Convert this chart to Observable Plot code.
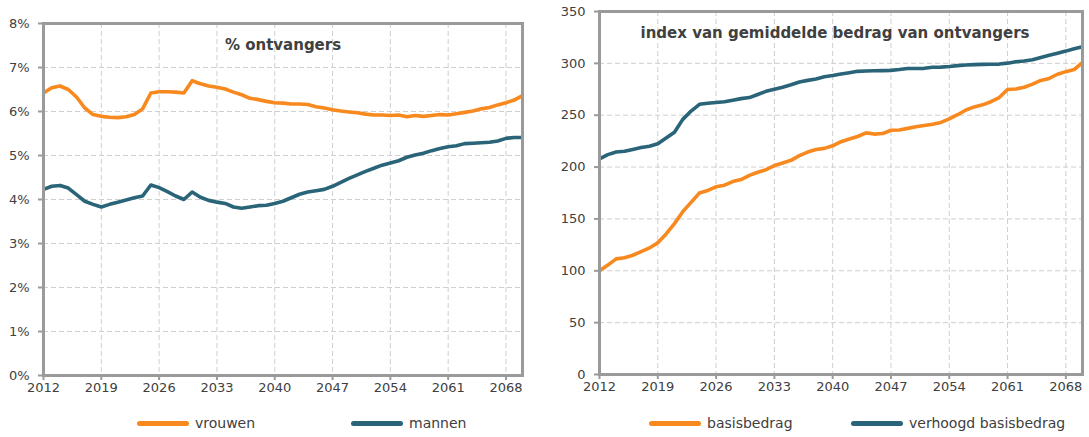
<!DOCTYPE html>
<html><head><meta charset="utf-8">
<script src="https://cdn.jsdelivr.net/npm/d3@7"></script>
<script src="https://cdn.jsdelivr.net/npm/@observablehq/plot@0.6"></script>
<style>
body{margin:0;background:#fff;font-family:"DejaVu Sans",sans-serif;color:#404040}
#wrap{position:relative;width:1089px;height:437px;overflow:hidden;background:#fff}
.panel{position:absolute;top:0}
.leg{position:absolute;top:414px;height:18px;display:flex;align-items:center;font-size:14px;white-space:nowrap;color:#404040}
.sw{display:inline-block;width:52px;height:5px;border-radius:3px;margin-right:6px}
</style></head><body><div id="wrap"></div>
<script>
// ---- data ----
const years = d3.range(2012, 2071);
const xTickLabels = [2012, 2019, 2026, 2033, 2040, 2047, 2054, 2061, 2068];

const seriesLeft = ["vrouwen", "mannen"];
const vrouwen = [6.42,6.54,6.58,6.50,6.33,6.08,5.93,5.89,5.87,5.86,5.88,5.93,6.06,6.42,6.45,6.45,6.44,6.42,6.70,6.63,
  6.58,6.55,6.51,6.44,6.38,6.30,6.27,6.23,6.20,6.19,6.17,6.17,6.16,6.11,6.08,6.04,6.01,5.99,5.97,5.94,
  5.92,5.92,5.91,5.92,5.88,5.91,5.89,5.91,5.93,5.92,5.95,5.98,6.01,6.06,6.09,6.15,6.20,6.26,6.36];
const mannen = [4.23,4.30,4.32,4.26,4.11,3.96,3.89,3.83,3.89,3.94,3.99,4.04,4.08,4.33,4.27,4.18,4.08,4.00,4.17,4.05,
  3.98,3.94,3.91,3.83,3.80,3.83,3.86,3.87,3.91,3.96,4.04,4.12,4.17,4.20,4.23,4.30,4.39,4.48,4.56,4.64,
  4.71,4.78,4.83,4.88,4.96,5.01,5.05,5.11,5.16,5.20,5.22,5.27,5.28,5.29,5.30,5.33,5.39,5.41,5.41];
const yTicksLeft = [0,1,2,3,4,5,6,7,8];

const seriesRight = ["basisbedrag", "verhoogd basisbedrag"];
const basisbedrag = [100,105.5,111.5,112.5,115,118.5,122,127,135.5,145.5,157,166,175,177.5,181,182.5,186,188,192,195,
  197.5,201.5,204,206.5,211,214.5,217,218,220.5,224.5,227,229.5,233,231.8,232.3,235.5,235.8,237.3,238.8,240,
  241.2,243,246.5,250.5,255,258,260,263,267,274.8,275.3,277,280,283.5,285.5,289.5,292,294,301];
const verhoogd = [208,212,214.5,215.3,217,218.8,220,222.5,228,233.5,246,254,260.5,261.5,262.3,263,264.5,266,267,270,
  273,275,277,279.3,282,283.6,285,287,288.3,289.8,291,292.3,292.7,292.8,293,293.2,294,295,295,295.2,
  296.2,296.4,297,297.8,298.4,298.8,299,299.2,299.3,300.2,301.6,302.3,303.5,305.7,307.7,309.8,311.8,314,316];
const yTicksRight = [0,50,100,150,200,250,300,350];

const colors = ["#f7891f", "#2a6478"];
const titles = ["% ontvangers", "index van gemiddelde bedrag van ontvangers"];

// ---- build ----
function tidy(names, arrays) {
  const out = [];
  names.forEach((n, i) => arrays[i].forEach((v, j) => out.push({series: n, year: years[j], value: v})));
  return out;
}

function panel(o) {
  const H = 400;
  const grid = {stroke: "#cfcfcf", strokeOpacity: 1, strokeWidth: 1, strokeDasharray: "5,3"};
  return Plot.plot({
    width: o.width, height: H,
    marginLeft: o.mL, marginRight: o.mR, marginTop: o.mT, marginBottom: H - o.bottom,
    style: {fontFamily: "DejaVu Sans, sans-serif", fontSize: "13px", background: "#fff", color: "#404040"},
    x: {domain: [2012, 2070], label: null},
    y: {domain: o.yDomain, label: null},
    color: {domain: o.names, range: colors},
    marks: [
      Plot.gridX(xTickLabels, grid),
      Plot.gridY(o.yTicks, grid),
      Plot.line(o.data, {x: "year", y: "value", stroke: "series", strokeWidth: 3.6, strokeLinejoin: "round", strokeLinecap: "butt"}),
      Plot.frame({stroke: "#9a9a9a", strokeWidth: 3}),
      Plot.axisX(xTickLabels, {tickSize: 5, tickPadding: 2, stroke: "#9a9a9a", strokeWidth: 2, fill: "#404040", tickFormat: d => String(d), label: null}),
      Plot.axisY(o.yTicks, {tickSize: 5, tickPadding: o.tp, stroke: "#9a9a9a", strokeWidth: 2, fill: "#404040", tickFormat: o.fmt, label: null}),
      Plot.text([o.title], {text: d => d, frameAnchor: "top", dy: 22, dx: o.titleDx, fontWeight: "bold", fontSize: 15, fill: "#404040", lineAnchor: "middle"})
    ]
  });
}

const wrap = document.getElementById("wrap");

const left = document.createElement("div");
left.className = "panel"; left.style.left = "0px";
left.appendChild(panel({width: 545, mL: 43, mR: 23, mT: 23, bottom: 375, yDomain: [0, 8], yTicks: yTicksLeft,
  fmt: d => d + "%", tp: 9, names: seriesLeft, data: tidy(seriesLeft, [vrouwen, mannen]), title: titles[0], titleDx: 0}));
wrap.appendChild(left);

const right = document.createElement("div");
right.className = "panel"; right.style.left = "545px";
right.appendChild(panel({width: 544, mL: 54, mR: 7, mT: 11, bottom: 374, yDomain: [0, 350], yTicks: yTicksRight,
  fmt: d => String(d), tp: 9, names: seriesRight, data: tidy(seriesRight, [basisbedrag, verhoogd]), title: titles[1], titleDx: -6}));
wrap.appendChild(right);

// legends
const legendPos = [[137, 351], [649, 851]];
[[seriesLeft], [seriesRight]].forEach(([names], p) => {
  names.forEach((n, i) => {
    const d = document.createElement("div");
    d.className = "leg";
    d.style.left = legendPos[p][i] + "px";
    const s = document.createElement("span");
    s.className = "sw"; s.style.background = colors[i];
    d.appendChild(s);
    d.appendChild(document.createTextNode(n));
    wrap.appendChild(d);
  });
});
</script></body></html>
